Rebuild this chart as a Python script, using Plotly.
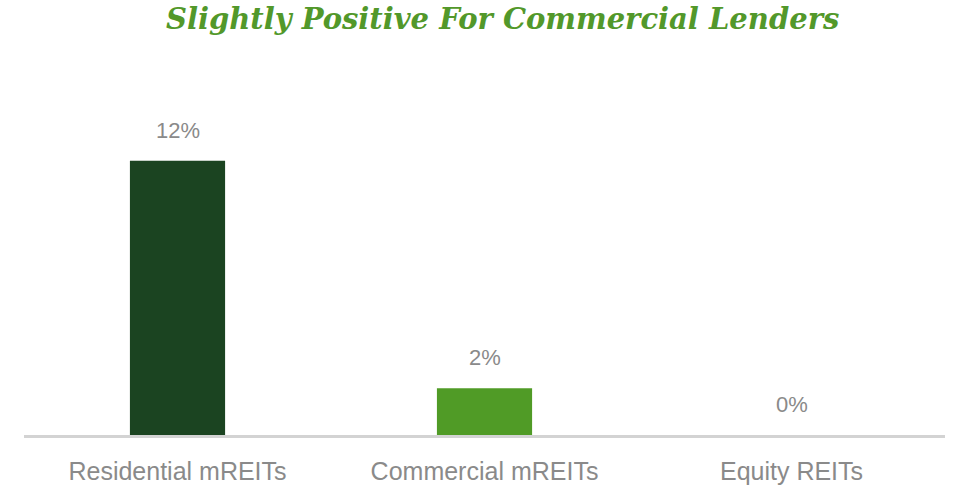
import plotly.graph_objects as go

categories = ["Residential mREITs", "Commercial mREITs", "Equity REITs"]
values = [11.7, 2.0, 0.0]
labels = ["12%", "2%", "0%"]
colors = ["#1b4421", "#509b26", "#509b26"]

fig = go.Figure()
fig.add_trace(go.Bar(
    x=categories, y=values,
    marker=dict(color=colors, line=dict(width=0)),
    width=0.31,
))
for c, v, t in zip(categories, values, labels):
    fig.add_annotation(
        x=c, y=v, text=t, showarrow=False, yanchor="bottom", yshift=16,
        font=dict(family="Liberation Sans, Arial", size=22, color="#8a8a8a"),
    )
fig.update_layout(
    width=961, height=485,
    margin=dict(l=24, r=16, t=60, b=50),
    paper_bgcolor="white", plot_bgcolor="white",
    showlegend=False,
    title=dict(
        text="<b><i>Slightly Positive For Commercial Lenders</i></b>",
        x=0.523, xanchor="center", y=0.962, yanchor="middle",
        font=dict(family="DejaVu Serif", size=29, color="#52982a"),
    ),
    xaxis=dict(
        showline=True, linecolor="#d3d3d3", linewidth=3,
        ticks="", showgrid=False, ticklabelstandoff=12, automargin=False,
        tickfont=dict(family="Liberation Sans, Arial", size=25, color="#8a8a8a"),
    ),
    yaxis=dict(range=[0, 16], visible=False, showgrid=False, zeroline=False),
)
fig.write_html("out.html")
